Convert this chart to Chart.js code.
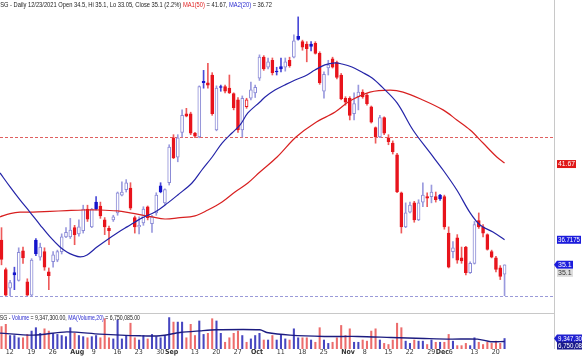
<!DOCTYPE html>
<html><head><meta charset="utf-8">
<script src="https://cdn.jsdelivr.net/npm/chart.js@4.4.0/dist/chart.umd.min.js"></script>
<style>
html,body{margin:0;padding:0;background:#fff;overflow:hidden}
#wrap{position:relative;width:582px;height:356px;background:#fff}
#c1{position:absolute;left:0;top:0}
#c2{position:absolute;left:0;top:300px}
</style></head><body>
<div id="wrap">
<canvas id="c1" width="582" height="300"></canvas>
<canvas id="c2" width="582" height="56"></canvas>
</div>
<script>
// ---------------- DATA ----------------
const symbol = 'HSG';
const startDate = '2021-07-09', endDate = '2021-12-23';
const holidays = ['2021-09-02', '2021-09-03'];

const opens = [
36.7,34.8,33.6,34.6,34.1,36.0,34.0,33.15,36.7,35.6,
35.95,34.65,35.3,35.4,35.95,36.9,36.9,37.5,37.1,37.3,
38.7,37.55,39.15,38.9,38.0,37.45,38.0,38.45,39.6,39.95,
40.05,38.15,37.55,37.8,38.85,37.75,38.45,40.2,39.1,40.4,
43.3,42.05,43.65,44.85,44.85,43.6,43.35,46.95,46.85,47.35,
43.8,46.6,46.6,46.5,46.15,45.75,43.8,45.3,45.85,46.2,
47.15,48.5,47.85,48.3,47.6,47.9,47.85,48.3,48.5,49.85,
49.5,49.35,49.35,49.4,48.75,46.3,47.8,48.4,48.15,47.35,
45.85,45.85,44.85,45.95,46.25,46.05,45.3,43.95,43.35,44.6,
43.3,42.95,42.2,39.75,37.55,38.5,39.1,38.0,39.15,39.5,
39.5,39.5,39.6,39.5,37.15,35.95,36.85,35.55,36.25,34.6,
35.2,37.95,37.55,37.05,35.95,35.55,34.9,34.5];
const highs = [
37.5,34.9,34.1,34.95,36.2,36.25,34.2,35.5,36.8,36.5,
36.2,34.9,35.95,36.05,37.1,37.5,38.1,37.65,38.0,38.95,
38.95,38.75,39.5,39.15,38.15,37.6,38.3,39.8,40.45,40.6,
40.4,38.25,38.2,38.85,38.9,38.3,39.75,40.4,40.0,42.85,
43.5,43.5,45.1,45.2,44.95,43.65,46.65,47.65,48.1,47.5,
46.65,46.7,46.7,47.35,46.2,45.9,46.0,45.85,46.9,46.7,
48.65,48.6,48.45,48.45,47.85,48.45,48.45,48.5,49.95,51.1,
49.6,49.5,49.5,49.5,48.85,47.55,48.3,48.5,48.25,47.45,
45.95,45.95,46.2,46.7,46.4,46.15,45.35,44.0,44.75,44.65,
43.5,43.1,42.3,39.8,39.1,39.15,39.2,39.3,40.4,39.75,
40.25,39.8,39.65,39.6,37.55,36.6,37.05,36.25,36.3,35.3,
37.9,38.45,37.7,37.1,36.05,35.65,35.05,35.1];
const lows = [
35.1,33.05,33.05,33.5,34.05,35.2,33.05,33.05,35.7,35.4,
34.75,33.5,34.95,35.3,35.8,36.85,36.8,36.4,36.95,37.15,
37.9,37.5,38.65,38.1,37.05,36.4,37.9,38.3,39.55,39.8,
38.65,37.15,37.1,37.65,38.0,37.2,38.3,39.75,39.0,40.25,
41.95,41.75,43.35,44.65,43.5,43.3,43.3,46.5,46.5,44.75,
43.75,46.3,46.2,46.15,45.1,43.65,43.35,45.2,45.75,45.9,
47.0,47.65,47.75,47.35,47.35,47.55,47.6,47.85,48.45,49.6,
48.95,48.2,48.9,48.7,46.75,45.85,47.35,47.8,47.1,45.75,
45.4,44.45,44.45,45.1,45.85,45.4,44.25,42.95,43.3,43.5,
42.85,42.25,39.75,37.15,37.5,38.45,37.85,37.95,38.85,38.85,
39.1,39.15,39.25,37.4,34.9,35.55,35.2,35.2,34.45,34.55,
35.15,37.45,36.9,36.05,35.55,34.65,34.15,33.05];
const closes = [
35.45,33.15,33.95,34.45,35.9,35.55,33.15,35.4,35.8,36.25,
34.95,34.4,35.75,35.95,36.9,37.2,37.35,37.05,37.55,38.7,
38.05,38.7,38.7,38.25,37.55,37.3,38.2,39.75,39.8,40.4,
38.75,37.55,37.65,38.7,38.15,38.2,39.6,39.8,39.95,42.7,
42.0,43.3,44.75,44.7,43.6,43.4,46.6,46.85,46.7,44.85,
46.5,46.55,46.3,46.2,45.25,43.8,45.85,45.75,46.4,46.55,
48.5,47.75,48.2,47.5,47.55,47.75,48.2,47.95,49.55,49.65,
49.15,49.05,49.2,48.75,46.85,47.4,48.0,47.85,47.2,45.8,
45.6,44.75,45.5,46.25,45.95,45.5,44.3,43.35,44.6,43.6,
43.05,42.4,39.8,37.55,38.45,38.95,38.0,39.1,39.6,39.4,
39.8,39.3,39.35,37.55,34.95,36.2,35.4,35.35,34.6,35.2,
37.7,37.55,37.15,36.1,35.6,34.8,34.35,35.1];
// volume in millions of shares
const volumes = [
20,22,12,12,10,10,13,16,19,14,
18,16,14,13,12,11,19,14,12,11,
10,11,12,10,27,10,9,26,9,12,
23,10,8,12,9,13,11,10,12,28,
24,24,24,10,22,12,25,13,14,27,
25,14,6,10,14,16,12,6,9,12,
14,8,8,12,8,13,9,8,18,10,
10,10,8,6,19,8,5,6,10,21,
12,18,6,6,8,7,16,18,8,5,
4,8,23,19,7,5,8,7,7,4,
8,6,6,6,13,7,3,3,5,3,
10,6,4,6,5,7,5,9.3473];

// moving averages (bar position, value)
const ma50Pos = [-0.35,2,4.3,7.3,11.3,15.2,19,22.9,26.9,29.9,35,38,41,45,48,51.3,54.3,57.3,60.1,64.1,68.5,72.9,77.6,81,85.7,90.4,93.4,98,102.7,105.9,109,112,115.2,117];
const ma50Val = [38.2,38.4,38.5,38.5,38.55,38.6,38.64,38.64,38.58,38.45,38.19,38.06,38.13,38.26,38.64,39.16,39.8,40.38,41.09,42.06,43.35,44.26,44.96,45.67,46.25,46.38,46.25,45.74,45.1,44.45,43.8,42.96,42.06,41.67];
const ma20Pos = [-0.35,2,4.3,6.6,9,11.3,13.6,15.2,16.6,18.3,19.9,22.2,24.5,26.9,29.2,32.7,35.7,38.7,41,44.3,46.6,49,51.3,53.6,55.5,57.3,60.1,61.3,63.6,65.9,68.3,70.6,72.9,75.2,77.6,79.2,81.5,83.8,86.2,88.5,92,95.7,99.7,102.7,105.9,109,111.3,114.3,117];
const ma20Val = [41.03,40.13,39.29,38.51,37.67,36.9,36.25,35.93,35.74,35.61,35.74,36.25,36.71,37.16,37.55,38.13,38.51,39.1,39.61,40.38,41.22,42.06,42.96,43.61,44.13,44.9,45.61,45.93,46.38,46.71,47.03,47.29,47.67,48.0,48.13,48.06,47.87,47.54,47.16,46.58,45.55,43.8,42.32,41.22,39.93,38.45,37.67,37.22,36.72];
const volMaPos = [-0.35,7.4,15.2,22.9,32.2,36.9,41.5,46.2,50,60.1,61.7,67.1,75.1,82.8,90.6,98.3,104.5,110.7,113.8,117];
const volMaVal = [14.2,12.4,15.3,13.3,11.8,11.8,14.7,16.2,17.1,17.1,14.7,12.4,11.2,11.2,10.3,9.4,8.8,8.8,6.5,6.75];

const refLevel = 43.35; // horizontal dashed level line
const ma50Last = 41.67, ma20Last = 36.7175, volMaLast = 6.750085;

const tickDates  = ['2021-07-12','2021-07-19','2021-07-26','2021-08-02','2021-08-09','2021-08-16','2021-08-23','2021-08-30','2021-09-01','2021-09-13','2021-09-20','2021-09-27','2021-10-01','2021-10-11','2021-10-18','2021-10-25','2021-11-01','2021-11-08','2021-11-15','2021-11-22','2021-11-29','2021-12-01','2021-12-06','2021-12-13','2021-12-20'];
const tickLabels = ['12','19','26','Aug','9','16','23','30','Sep','13','20','27','Oct','11','18','25','Nov','8','15','22','29','Dec','6','13','20'];
const monthLabels = ['Aug','Sep','Oct','Nov','Dec'];

// ---------------- HELPERS ----------------
function tradingDays(s, e, hol) {
  const out = []; const d = new Date(s + 'T00:00:00Z'); const end = new Date(e + 'T00:00:00Z');
  while (d <= end) {
    const w = d.getUTCDay(); const iso = d.toISOString().slice(0, 10);
    if (w !== 0 && w !== 6 && !hol.includes(iso)) out.push(iso);
    d.setUTCDate(d.getUTCDate() + 1);
  }
  return out;
}
const dates = tradingDays(startDate, endDate, holidays);
const N = closes.length;
const X_MIN = -0.35, X_MAX = 128.5;
const NARROW = "'Liberation Sans Narrow', 'DejaVu Sans Condensed', Arial, sans-serif";

const RED = '#e8141c', RED_WICK = '#ee5a5a', BLUE_FILL = '#1414cc', WHITE_EDGE = '#8a8ad6';
const kind = closes.map((c, i) => {
  const prev = i > 0 ? closes[i - 1] : opens[i];
  const down = c < prev;
  const hollow = c >= opens[i];
  if (hollow) return down ? 'redHollow' : 'white';
  return down ? 'red' : 'blue';
});
const bodyFill = kind.map(k => k === 'red' ? RED : k === 'blue' ? BLUE_FILL : '#ffffff');
const bodyEdge = kind.map(k => (k === 'red' || k === 'redHollow') ? RED : k === 'blue' ? BLUE_FILL : WHITE_EDGE);
const wickCol = kind.map(k => (k === 'red' || k === 'redHollow') ? RED_WICK : k === 'blue' ? '#4a4ad8' : '#9a9ade');
const volCol = kind.map(k => (k === 'red' || k === 'redHollow') ? '#ec6c6c' : '#4646c0');

const bodyData = opens.map((o, i) => ({x: i, y: [o, closes[i]]}));
const wickData = lows.map((l, i) => ({x: i, y: [l, highs[i]]}));
const pts = (p, v) => p.map((x, i) => ({x, y: v[i]}));

function drawRuns(ctx, runs, x, y, width, font) {
  ctx.save();
  ctx.font = font; ctx.textBaseline = 'middle'; ctx.textAlign = 'left';
  const total = runs.reduce((s, r) => s + ctx.measureText(r[0]).width, 0);
  ctx.translate(x, y); ctx.scale(width / total, 1);
  let cx = 0;
  runs.forEach(r => { ctx.fillStyle = r[1]; ctx.fillText(r[0], cx, 0); cx += ctx.measureText(r[0]).width; });
  ctx.restore();
}
function tag(ctx, text, x, yc, bg, fg, arrow, w) {
  ctx.save();
  const h = 8;
  ctx.fillStyle = bg;
  ctx.beginPath();
  if (arrow) { ctx.moveTo(x - 3, yc); ctx.lineTo(x, yc - h / 2); } else { ctx.moveTo(x, yc - h / 2); }
  ctx.lineTo(x + w, yc - h / 2); ctx.lineTo(x + w, yc + h / 2); ctx.lineTo(x, yc + h / 2);
  if (arrow) ctx.lineTo(x - 3, yc);
  ctx.closePath(); ctx.fill();
  ctx.font = '7px Arial'; ctx.textBaseline = 'middle'; ctx.fillStyle = fg;
  const tw = ctx.measureText(text).width;
  ctx.translate(x + 1, yc + 0.5); ctx.scale(Math.min(1, (w - 2) / tw), 1);
  ctx.fillText(text, 0, 0);
  ctx.restore();
}
const fmt2 = v => v.toFixed(2);
const fmtN = v => v.toLocaleString('en-US', {minimumFractionDigits: 2, maximumFractionDigits: 2});

// ---------------- PRICE CHART ----------------
const priceOverlay = {
  id: 'priceOverlay',
  beforeDatasetsDraw(chart) {
    const {ctx, chartArea: a, scales: {y}} = chart;
    ctx.save();
    ctx.lineWidth = 1;
    ctx.setLineDash([3, 2]);
    ctx.strokeStyle = '#e06060';
    const yy = Math.round(y.getPixelForValue(refLevel)) + 0.5;
    ctx.beginPath(); ctx.moveTo(a.left, yy); ctx.lineTo(a.right, yy); ctx.stroke();
    ctx.strokeStyle = '#9a9ad8';
    ctx.beginPath(); ctx.moveTo(a.left, a.bottom + 0.5); ctx.lineTo(a.right, a.bottom + 0.5); ctx.stroke();
    ctx.restore();
  },
  afterDraw(chart) {
    const {ctx, chartArea: a, scales: {y}} = chart;
    ctx.save();
    ctx.strokeStyle = '#c8c8c8'; ctx.lineWidth = 1;
    ctx.beginPath(); ctx.moveTo(a.right + 0.5, 0); ctx.lineTo(a.right + 0.5, chart.height); ctx.stroke();
    ctx.restore();
    const L = N - 1;
    const chg = (closes[L] / closes[L - 1] - 1) * 100;
    const d = dates[L].split('-');
    const head = symbol + ' - Daily ' + d[1] + '/' + d[2] + '/' + d[0] + ' Open ' + opens[L] + ', Hi ' + highs[L] + ', Lo ' + lows[L] + ', Close ' + closes[L] + ' (' + chg.toFixed(1) + '%) ';
    drawRuns(ctx, [[head, '#222'], ['MA1(50)', '#e02020'], [' = ' + fmt2(ma50Last) + ', ', '#222'], ['MA2(20)', '#2a2ad0'], [' = ' + fmt2(ma20Last), '#222']], -4, 5, 276, '8px Arial');
    tag(ctx, fmt2(ma50Last), a.right + 3, y.getPixelForValue(ma50Last) + 1, '#e01818', '#fff', false, 19);
    tag(ctx, String(ma20Last), a.right + 3, y.getPixelForValue(ma20Last), '#1c1cdc', '#fff', false, 24);
    const yc = y.getPixelForValue(closes[L]);
    tag(ctx, String(closes[L]), a.right + 3, yc, '#1c1cdc', '#fff', true, 16);
    tag(ctx, String(closes[L]), a.right + 3, yc + 8, '#dcdcdc', '#333', false, 16);
  }
};

new Chart(document.getElementById('c1'), {
  type: 'bar',
  data: {
    datasets: [
      {type: 'line', data: pts(ma20Pos, ma20Val), borderColor: '#2424a8', borderWidth: 1.2, pointRadius: 0, tension: 0.35, order: 0},
      {type: 'line', data: pts(ma50Pos, ma50Val), borderColor: '#d82020', borderWidth: 1.2, pointRadius: 0, tension: 0.35, order: 1},
      {data: bodyData, backgroundColor: bodyFill, borderColor: bodyEdge, borderWidth: 1, borderSkipped: false, barThickness: 3, grouped: false, order: 2},
      {data: wickData, backgroundColor: wickCol, borderWidth: 0, barThickness: 1, grouped: false, order: 3}
    ]
  },
  options: {
    responsive: false, animation: false, devicePixelRatio: 1,
    layout: {padding: {left: 0, right: 0, top: 0, bottom: 4}},
    plugins: {legend: {display: false}, tooltip: {enabled: false}},
    scales: {
      x: {type: 'linear', min: X_MIN, max: X_MAX, display: false, offset: false},
      y: {position: 'right', min: 33.09, max: 52.19, ticks: {display: false}, grid: {display: false, drawTicks: false}, border: {display: false},
          afterFit(s) { s.width = 28; }}
    }
  },
  plugins: [priceOverlay]
});

// ---------------- VOLUME CHART ----------------
const tickIdx = tickDates.map(t => dates.indexOf(t));
const labelAt = {}; tickIdx.forEach((v, i) => { labelAt[v] = tickLabels[i]; });

const volOverlay = {
  id: 'volOverlay',
  afterDraw(chart) {
    const {ctx, chartArea: a, scales: {y}} = chart;
    ctx.save();
    ctx.strokeStyle = '#c8c8c8'; ctx.lineWidth = 1;
    ctx.beginPath(); ctx.moveTo(a.left, a.top + 0.5); ctx.lineTo(a.right, a.top + 0.5); ctx.stroke();
    ctx.beginPath(); ctx.moveTo(a.right + 0.5, 0); ctx.lineTo(a.right + 0.5, a.bottom); ctx.stroke();
    ctx.restore();
    const L = N - 1;
    drawRuns(ctx, [[symbol + ' - ', '#222'], ['Volume', '#2a2ad0'], [' = ' + fmtN(volumes[L] * 1e6) + ', ', '#222'], ['MA(Volume,20)', '#2a2ad0'], [' = ' + fmtN(volMaLast * 1e6), '#222']], -4, a.top + 4.5, 144, '8px Arial');
    const yv = y.getPixelForValue(volumes[L]);
    tag(ctx, Math.round(volumes[L] * 1e6).toLocaleString('en-US').slice(0, 8), a.right + 3, yv, '#2020d0', '#fff', true, 26);
    tag(ctx, Math.round(volMaLast * 1e6).toLocaleString('en-US').slice(0, 8), a.right + 3, yv + 7, '#1a1a8c', '#fff', false, 26);
  }
};

new Chart(document.getElementById('c2'), {
  type: 'bar',
  data: {
    datasets: [
      {type: 'line', data: pts(volMaPos, volMaVal), borderColor: '#1c1c80', borderWidth: 1.4, pointRadius: 0, tension: 0.3, order: 0},
      {data: volumes.map((v, i) => ({x: i, y: v})), backgroundColor: volCol, borderWidth: 0, barThickness: 1.4, grouped: false, order: 1}
    ]
  },
  options: {
    responsive: false, animation: false, devicePixelRatio: 1,
    layout: {padding: {left: 0, right: 0, top: 13, bottom: 0}},
    plugins: {legend: {display: false}, tooltip: {enabled: false}},
    scales: {
      x: {type: 'linear', min: X_MIN, max: X_MAX, offset: false,
          grid: {display: false, drawTicks: false}, border: {display: false},
          afterBuildTicks(s) { s.ticks = tickIdx.map(v => ({value: v})); },
          ticks: {autoSkip: false, maxRotation: 0, padding: 0, align: 'start', color: '#333',
                  font: c => ({family: NARROW, size: 7, lineHeight: 1, weight: monthLabels.includes(labelAt[c.tick && c.tick.value]) ? 'bold' : 'normal'}),
                  callback: v => labelAt[v] !== undefined ? labelAt[v] : ''}},
      y: {position: 'right', min: 0, max: 32.1, ticks: {display: false}, grid: {display: false, drawTicks: false}, border: {display: false},
          afterFit(s) { s.width = 28; }}
    }
  },
  plugins: [volOverlay]
});
</script>
</body></html>
